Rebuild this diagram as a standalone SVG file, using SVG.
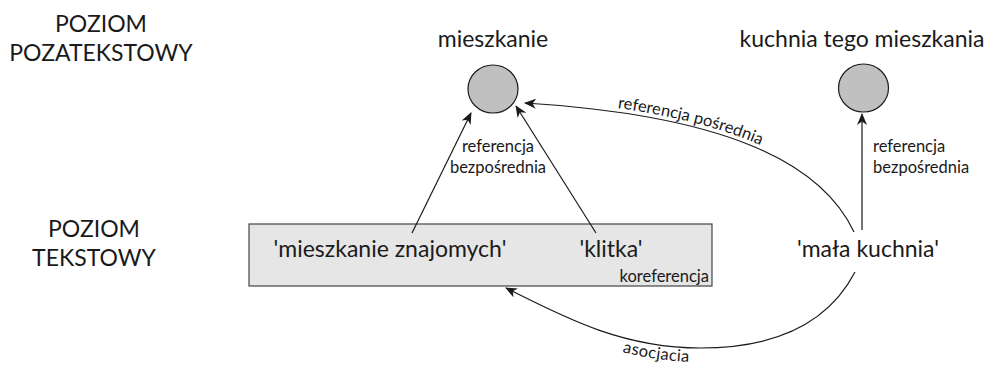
<svg xmlns="http://www.w3.org/2000/svg" width="990" height="365" viewBox="0 0 990 365">
<style>
text{font-family:Lato,"Liberation Sans",sans-serif;fill:#1a1a1a}
.big{font-size:23px}
.small{font-size:16.5px}
.conn{fill:none;stroke:#1a1a1a;stroke-width:1.2}
.node{fill:#c0c0c0;stroke:#1a1a1a;stroke-width:1.2}
</style>
<defs>
<marker id="arr" viewBox="0 0 12 10" refX="11" refY="5" markerWidth="12" markerHeight="10" markerUnits="userSpaceOnUse" orient="auto">
<path d="M0,0 L12,5 L0,10 L3.5,5 z" fill="#1a1a1a"/>
</marker>
<path id="p1" d="M525,103 C720,115 820,160 854,232"/>
<path id="p2" d="M506,288 C560,315 620,348 700,348 C780,348 830,320 855,272"/>
</defs>
<g id="levels">
<text class="big" x="101" y="32" text-anchor="middle">POZIOM</text>
<text class="big" x="101" y="61" text-anchor="middle">POZATEKSTOWY</text>
<text class="big" x="94" y="237" text-anchor="middle">POZIOM</text>
<text class="big" x="94" y="266" text-anchor="middle">TEKSTOWY</text>
</g>
<g id="n-mieszkanie">
<text class="big" x="493" y="47" text-anchor="middle">mieszkanie</text>
<ellipse class="node" cx="493" cy="89" rx="25" ry="24"/>
</g>
<g id="n-kuchnia">
<text class="big" x="862" y="47" text-anchor="middle">kuchnia tego mieszkania</text>
<ellipse class="node" cx="863.5" cy="88" rx="25" ry="24"/>
</g>
<g id="n-box">
<rect x="249" y="224" width="463" height="62" fill="#e6e6e6" stroke="#444" stroke-width="1.2"/>
<text class="big" x="390" y="257" text-anchor="middle">'mieszkanie znajomych'</text>
<text class="big" x="611" y="257" text-anchor="middle">'klitka'</text>
<text class="small" x="709" y="282" text-anchor="end">koreferencja</text>
</g>
<g id="n-mala">
<text class="big" x="868" y="257" text-anchor="middle">'mała kuchnia'</text>
</g>
<g id="connectors">
<line class="conn" x1="412" y1="233" x2="471" y2="113" marker-end="url(#arr)"/>
<line class="conn" x1="596" y1="233" x2="516" y2="106" marker-end="url(#arr)"/>
<text class="small" x="498" y="152" text-anchor="middle">referencja</text>
<text class="small" x="498" y="173" text-anchor="middle">bezpośrednia</text>
<line class="conn" x1="862" y1="230" x2="862" y2="114" marker-end="url(#arr)"/>
<text class="small" x="873" y="152">referencja</text>
<text class="small" x="873" y="173">bezpośrednia</text>
<path class="conn" d="M854,232 C820,160 720,115 525,103" marker-end="url(#arr)"/>
<text class="small" dy="-4"><textPath href="#p1" startOffset="45%" text-anchor="middle">referencja pośrednia</textPath></text>
<path class="conn" d="M855,272 C830,320 780,348 700,348 C620,348 560,315 506,288" marker-end="url(#arr)"/>
<text class="small" dy="14"><textPath href="#p2" startOffset="42%" text-anchor="middle">asocjacia</textPath></text>
</g>
</svg>
